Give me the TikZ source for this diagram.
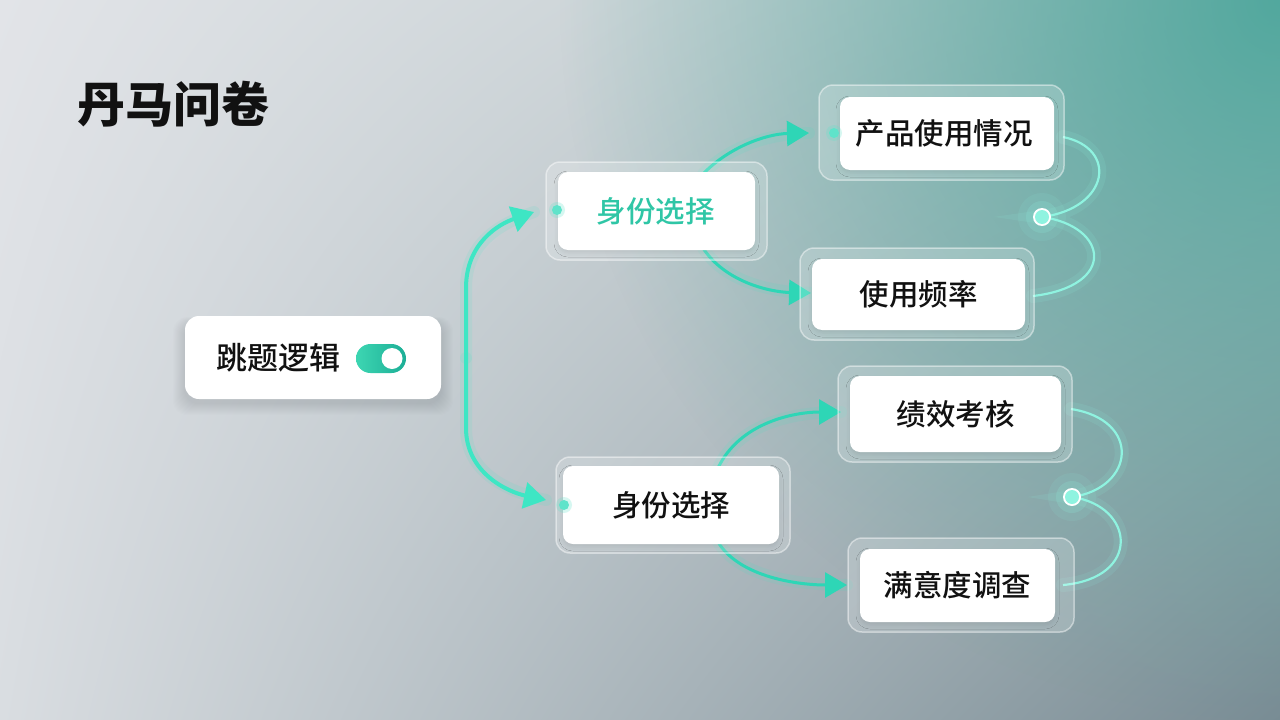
\documentclass[tikz,border=0pt]{standalone}
\usepackage{fontspec}
\newfontfamily\cjk{Noto Sans CJK SC}
\newfontfamily\cjkm{Noto Sans CJK SC Medium}
\usetikzlibrary{arrows.meta,shadows.blur,fadings,shadings}
\definecolor{bgUL}{HTML}{E2E4E8}
\definecolor{bgUR}{HTML}{B8C6C8}
\definecolor{bgLL}{HTML}{D9DDE1}
\definecolor{bgLR}{HTML}{798C94}
\definecolor{bgT}{HTML}{52A89E}
\definecolor{trunkc}{HTML}{3EE6C4}
\definecolor{arrowc}{HTML}{2ED6B6}
\definecolor{rcurvec}{HTML}{8FF3E0}
\definecolor{dotc}{HTML}{5FE3CA}
\definecolor{tealtext}{HTML}{2FC6A6}
\definecolor{togL}{HTML}{3DD6B2}
\definecolor{togR}{HTML}{1CAE96}
\definecolor{ink}{HTML}{111111}
\tikzfading[name=radfade, inner color=transparent!0, outer color=transparent!100]
\tikzset{
  inbox/.style={fill=white, rounded corners=10pt, draw=none, inner sep=0pt,
    blur shadow={shadow xshift=0pt, shadow yshift=-3pt, shadow blur radius=4pt, shadow opacity=8},
    font=\cjkm\fontsize{29.5}{31}\selectfont, text=ink},
  glass/.style={fill=white, fill opacity=0.2, draw=white, draw opacity=0.45, line width=1.5pt,
    rounded corners=14pt, inner sep=0pt},
  trunk/.style={draw=trunkc, line width=4pt, -{Triangle[length=22pt,width=26pt]}, color=trunkc},
  conn/.style={draw=trunkc, line width=3pt, -{Triangle[length=22pt,width=25pt]}, color=arrowc},
  glowline/.style={draw=trunkc, line width=12pt, opacity=0.12, line cap=round},
  rcurve/.style={draw=rcurvec, line width=2.2pt},
  rglow/.style={draw=rcurvec, line width=14pt, opacity=0.12, line cap=round},
  dot/.style={fill=dotc, draw=none},
}
\begin{document}
\begin{tikzpicture}[x=1pt,y=-1pt]
\useasboundingbox (0,0) rectangle (1280,720);
% background
\shade[upper left=bgUL, upper right=bgUR, lower left=bgLL, lower right=bgLR] (0,0) rectangle (1280,720);
\fill[bgT, path fading=radfade] (1280,0) circle (720pt);

% title
\node[anchor=west, font=\cjk\bfseries\fontsize{48}{50}\selectfont, text=ink, inner sep=0pt] (title) at (77,104) {丹马问卷};

% named coordinates
\coordinate (J) at (466,358);
\coordinate (t1) at (534,212);
\coordinate (t2) at (546,500);
\coordinate (a1) at (703,174);
\coordinate (a2) at (703,248);
\coordinate (b1) at (718,468);
\coordinate (b2) at (718,542);
\coordinate (tp1) at (809,133);
\coordinate (tp2) at (811,293);
\coordinate (tp3) at (841,412);
\coordinate (tp4) at (847,585);
\coordinate (r1) at (1063,137);
\coordinate (r2) at (1033,296);
\coordinate (r3) at (1071,409);
\coordinate (r4) at (1063,585);

% trunk glow + trunk
\draw[glowline] (J) -- ++(0,-70) .. controls +(0,-45) and +(-35,12) .. (t1);
\draw[glowline] (J) -- ++(0,70) .. controls +(0,45) and +(-38,-8) .. (t2);
\draw[trunk] (J) -- ++(0,-70) .. controls +(0,-45) and +(-35,12) .. (t1);
\draw[trunk] (J) -- ++(0,70) .. controls +(0,45) and +(-38,-8) .. (t2);

% group connectors
\draw[glowline] (a1) .. controls (728,148) and (765,134) .. (tp1);
\draw[glowline] (a2) .. controls (725,282) and (770,292) .. (tp2);
\draw[glowline] (b1) .. controls (740,422) and (795,412) .. (tp3);
\draw[glowline] (b2) .. controls (740,578) and (800,585) .. (tp4);
\draw[conn] (a1) .. controls (728,148) and (765,134) .. (tp1);
\draw[conn] (a2) .. controls (725,282) and (770,292) .. (tp2);
\draw[conn] (b1) .. controls (740,422) and (795,412) .. (tp3);
\draw[conn] (b2) .. controls (740,578) and (800,585) .. (tp4);

% right junction curves
\coordinate (d1) at (1042,217);
\coordinate (d2) at (1072,497);
\draw[rglow] (r1) .. controls (1118,148) and (1110,208) .. (d1) .. controls (1108,226) and (1118,286) .. (r2);
\draw[rglow] (r3) .. controls (1142,420) and (1135,488) .. (d2) .. controls (1135,506) and (1142,578) .. (r4);
\draw[rcurve] (r1) .. controls (1118,148) and (1110,208) .. (d1) .. controls (1108,226) and (1118,286) .. (r2);
\draw[rcurve] (r3) .. controls (1142,420) and (1135,488) .. (d2) .. controls (1135,506) and (1142,578) .. (r4);

% glass frames
\node[glass, minimum width=221pt, minimum height=98pt] (s1f) at (656.5,211) {};
\node[glass, minimum width=245pt, minimum height=95pt] (p1f) at (941.5,132.5) {};
\node[glass, minimum width=234pt, minimum height=92pt] (p2f) at (917,294) {};
\node[glass, minimum width=234pt, minimum height=96pt] (s2f) at (673,505) {};
\node[glass, minimum width=234pt, minimum height=96pt] (p3f) at (955,414) {};
\node[glass, minimum width=226pt, minimum height=94pt] (p4f) at (961,585) {};

% inner boxes
\node[inbox, minimum width=197pt, minimum height=78pt, text=tealtext] (s1) at (656.5,211) {\hspace*{-2pt}身份选择};
\node[inbox, minimum width=214pt, minimum height=73pt] (p1) at (947,133.5) {\hspace*{-6pt}产品使用情况};
\node[inbox, minimum width=213pt, minimum height=71pt] (p2) at (918.5,294.5) {使用频率};
\node[inbox, minimum width=216pt, minimum height=78pt] (s2) at (671,505) {身份选择};
\node[inbox, minimum width=211pt, minimum height=76pt] (p3) at (955.5,414) {绩效考核};
\node[inbox, minimum width=195pt, minimum height=73pt] (p4) at (957.5,585.5) {满意度调查};

% main node with soft shadow
\foreach \i in {1,...,12}{
  \fill[black, opacity=0.009, rounded corners=14pt] (185-\i,316-\i/2+7) rectangle (441+\i,399+\i+4);
}
\node[fill=white, rounded corners=14pt, inner sep=0pt, minimum width=256pt, minimum height=83pt] (main) at (313,357.5) {};
\node[anchor=west, font=\cjkm\fontsize{31}{33}\selectfont, text=ink, inner sep=0pt] (mainlbl) at (216,358) {跳题逻辑};
% toggle
\shade[left color=togL, right color=togR, rounded corners=14.5pt] (356,344) rectangle (406,373);
\node[circle, fill=white, minimum size=21pt, inner sep=0pt] (knob) at (392,358.5) {};

% dots
\foreach \p/\n in {{(557,210)}/da,{(834,133)}/db,{(564,505)}/dc}{
  \fill[dotc, opacity=0.25] \p circle (8pt);
  \node[circle, dot, minimum size=10pt, inner sep=0pt] (\n) at \p {};
}
\foreach \p/\n in {{(1042,217)}/j1,{(1072,497)}/j2}{
  \fill[rcurvec, opacity=0.10] \p circle (24pt);
  \fill[rcurvec, opacity=0.18] \p circle (16pt);
  \node[circle, fill=white, minimum size=18pt, inner sep=0pt] (\n o) at \p {};
  \node[circle, fill=rcurvec, minimum size=14pt, inner sep=0pt] (\n) at \p {};
}
\end{tikzpicture}
\end{document}
